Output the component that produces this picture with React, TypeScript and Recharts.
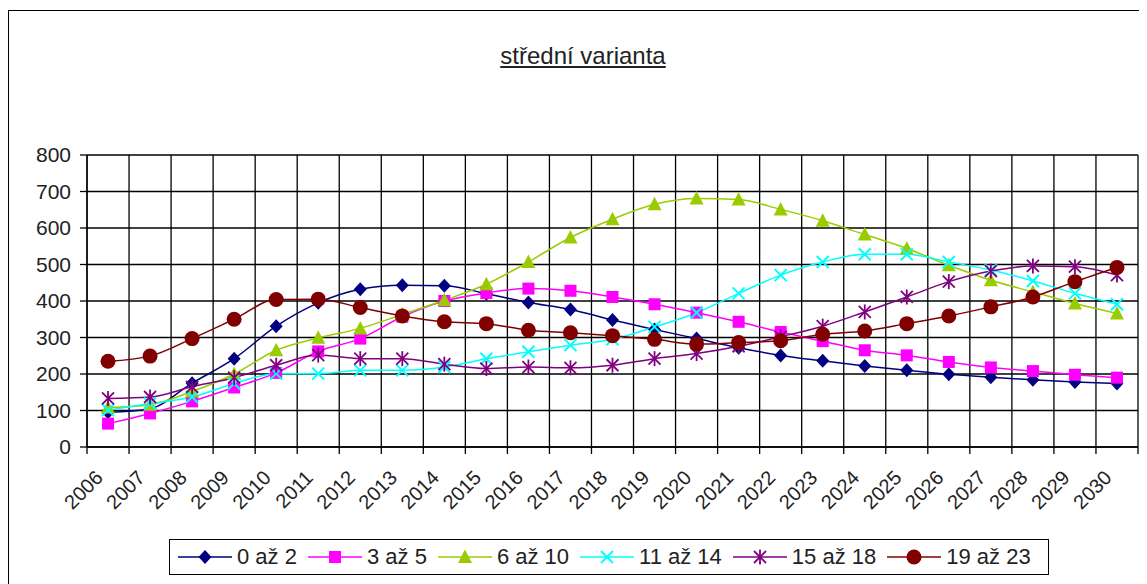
import { LineChart, Line, XAxis, YAxis, CartesianGrid, Legend } from 'recharts';

const years = [
  '2006', '2007', '2008', '2009', '2010', '2011', '2012', '2013', '2014', '2015', '2016', '2017', '2018',
  '2019', '2020', '2021', '2022', '2023', '2024', '2025', '2026', '2027', '2028', '2029', '2030',
];

const age0to2 = [95, 105, 175, 242, 331, 395, 432, 443, 442, 420, 396, 377, 348, 322, 297, 272, 251, 236, 222, 210, 199, 191, 184, 178, 174];
const age3to5 = [64, 92, 125, 163, 203, 262, 297, 357, 400, 422, 434, 428, 411, 391, 368, 343, 315, 290, 265, 251, 233, 218, 208, 198, 190];
const age6to10 = [108, 116, 152, 200, 265, 299, 325, 363, 402, 446, 507, 574, 624, 665, 681, 678, 651, 620, 582, 544, 498, 457, 425, 393, 366];
const age11to14 = [101, 119, 137, 174, 201, 201, 210, 210, 219, 242, 261, 279, 295, 329, 368, 421, 471, 507, 528, 528, 507, 485, 455, 421, 391];
const age15to18 = [133, 137, 165, 190, 224, 252, 242, 242, 227, 215, 219, 217, 224, 242, 256, 276, 302, 331, 370, 411, 453, 482, 496, 494, 471];
const age19to23 = [235, 249, 297, 350, 404, 405, 382, 359, 343, 338, 320, 313, 305, 295, 282, 286, 291, 309, 318, 338, 359, 384, 411, 453, 492];

const yTicks = [0, 100, 200, 300, 400, 500, 600, 700, 800];

const seriesNames = ['0 až 2', '3 až 5', '6 až 10', '11 až 14', '15 až 18', '19 až 23'];
const seriesValues = [age0to2, age3to5, age6to10, age11to14, age15to18, age19to23];

type Shape = 'diamond' | 'square' | 'triangle' | 'cross' | 'star' | 'circle';
const seriesShapes: Shape[] = ['diamond', 'square', 'triangle', 'cross', 'star', 'circle'];
const seriesColors = ['#000080', '#ff00ff', '#99cc00', '#00ffff', '#800080', '#800000'];

const FONT = '"Liberation Sans", Arial, sans-serif';
const CHART_W = 1139;
const CHART_H = 576;
const MARGIN = { top: 147, right: 9, left: 9, bottom: 9 };
const YAXIS_W = 70;
const PLOT_W = CHART_W - MARGIN.left - MARGIN.right - YAXIS_W;
const BAND = PLOT_W / years.length;

const chartData = years.map((year, i) => {
  const row: Record<string, string | number> = { year };
  seriesNames.forEach((name, s) => {
    row[name] = seriesValues[s][i];
  });
  return row;
});

function Marker({ shape, color, cx, cy }: { shape: Shape; color: string; cx: number; cy: number }) {
  switch (shape) {
    case 'diamond':
      return <polygon points={`${cx},${cy - 7} ${cx + 6.5},${cy} ${cx},${cy + 7} ${cx - 6.5},${cy}`} fill={color} />;
    case 'square':
      return <rect x={cx - 6} y={cy - 6} width={12} height={12} fill={color} />;
    case 'triangle':
      return <polygon points={`${cx},${cy - 7.5} ${cx + 7},${cy + 6} ${cx - 7},${cy + 6}`} fill={color} />;
    case 'cross':
      return (
        <g stroke={color} strokeWidth={2}>
          <line x1={cx - 6} y1={cy - 6} x2={cx + 6} y2={cy + 6} />
          <line x1={cx - 6} y1={cy + 6} x2={cx + 6} y2={cy - 6} />
        </g>
      );
    case 'star':
      return (
        <g stroke={color} strokeWidth={1.8}>
          <line x1={cx - 6} y1={cy - 6} x2={cx + 6} y2={cy + 6} />
          <line x1={cx - 6} y1={cy + 6} x2={cx + 6} y2={cy - 6} />
          <line x1={cx} y1={cy - 7.5} x2={cx} y2={cy + 7.5} />
        </g>
      );
    default:
      return <circle cx={cx} cy={cy} r={7.5} fill={color} />;
  }
}

function makeDot(shape: Shape, color: string) {
  return (props: any) => {
    const { cx, cy, index } = props;
    if (cx == null || cy == null) return <g key={index} />;
    return (
      <g key={`${shape}-${index}`}>
        <Marker shape={shape} color={color} cx={cx} cy={cy} />
      </g>
    );
  };
}

function YearTick(props: any) {
  const { x, y, payload, index } = props;
  const half = BAND / 2;
  return (
    <g>
      <line x1={x - half} y1={y} x2={x - half} y2={y + 7} stroke="#000" strokeWidth={1.3} />
      {index === years.length - 1 && (
        <line x1={x + half} y1={y} x2={x + half} y2={y + 7} stroke="#000" strokeWidth={1.3} />
      )}
      <text
        transform={`translate(${x - 4},${y + 32}) rotate(-45)`}
        textAnchor="end"
        fontSize={20}
        fontFamily={FONT}
        fill="#222"
      >
        {payload.value}
      </text>
    </g>
  );
}

function LegendBox(props: any) {
  // keep the series order, not the alphabetical one
  const items = [...(props.payload || [])].sort(
    (a: any, b: any) => seriesNames.indexOf(a.value) - seriesNames.indexOf(b.value),
  );
  return (
    <div
      style={{
        display: 'flex',
        alignItems: 'center',
        gap: 11,
        height: 36,
        boxSizing: 'border-box',
        border: '1.5px solid #000',
        padding: '0 8px',
        fontFamily: FONT,
        fontSize: 22,
        color: '#222',
        background: '#fff',
      }}
    >
      {items.map((entry: any) => {
        const s = seriesNames.indexOf(entry.value);
        return (
          <div key={entry.value} style={{ display: 'flex', alignItems: 'center', gap: 5 }}>
            <svg width={54} height={20}>
              <line x1={0} y1={10} x2={54} y2={10} stroke={seriesColors[s]} strokeWidth={1.5} />
              <Marker shape={seriesShapes[s]} color={seriesColors[s]} cx={27} cy={10} />
            </svg>
            <span>{entry.value}</span>
          </div>
        );
      })}
    </div>
  );
}

export default function App() {
  return (
    <div style={{ position: 'relative', width: CHART_W, height: CHART_H, fontFamily: FONT, background: '#fff' }}>
      <div
        style={{
          position: 'absolute',
          left: 0,
          top: 2,
          right: 0,
          bottom: 0,
          borderLeft: '1.5px solid #000',
          borderTop: '1.5px solid #000',
        }}
      />
      <div
        style={{
          position: 'absolute',
          left: 0,
          width: 1150,
          top: 34,
          textAlign: 'center',
          fontSize: 24,
          color: '#222',
          textDecoration: 'underline',
        }}
      >
        střední varianta
      </div>
      <div style={{ position: 'absolute', left: 0, top: 0 }}>
        <LineChart width={CHART_W} height={CHART_H} data={chartData} margin={MARGIN}>
          <CartesianGrid
            stroke="#000"
            strokeWidth={1.3}
            verticalCoordinatesGenerator={({ offset }: any) =>
              Array.from({ length: years.length + 1 }, (_, i) => offset.left + (i * offset.width) / years.length)
            }
          />
          <XAxis
            dataKey="year"
            interval={0}
            padding={{ left: BAND / 2, right: BAND / 2 }}
            tickSize={0}
            tickMargin={0}
            tick={<YearTick />}
            axisLine={{ stroke: '#000', strokeWidth: 1.3 }}
            height={92}
          />
          <YAxis
            domain={[0, 800]}
            ticks={yTicks}
            width={YAXIS_W}
            tickSize={7}
            tickMargin={9}
            tick={{ fontSize: 21, fill: '#222', fontFamily: FONT }}
            tickLine={{ stroke: '#000', strokeWidth: 1.3 }}
            axisLine={{ stroke: '#000', strokeWidth: 1.3 }}
          />
          <Legend
            verticalAlign="bottom"
            content={<LegendBox />}
            wrapperStyle={{ left: 161, width: 880 }}
          />
          {seriesNames.map((name, s) => (
            <Line
              key={name}
              type="monotone"
              dataKey={name}
              stroke={seriesColors[s]}
              strokeWidth={1.5}
              dot={makeDot(seriesShapes[s], seriesColors[s])}
              activeDot={false}
              isAnimationActive={false}
            />
          ))}
        </LineChart>
      </div>
    </div>
  );
}
